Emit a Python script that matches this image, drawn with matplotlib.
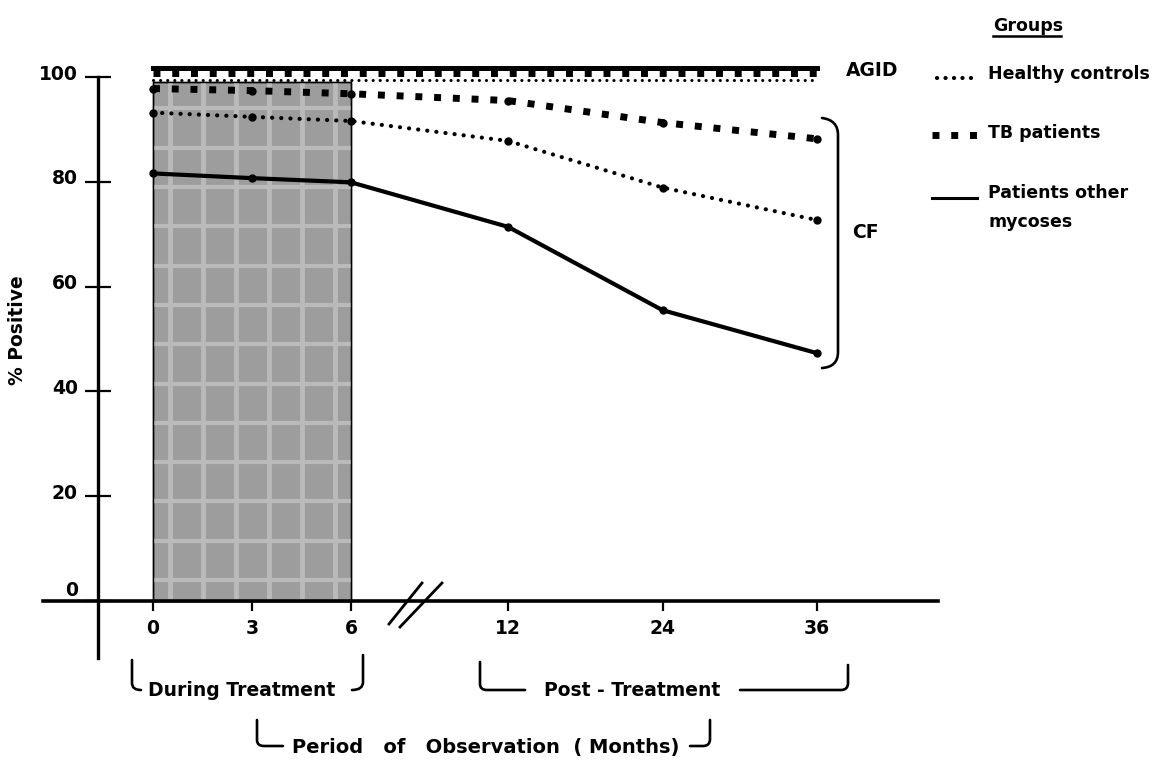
import numpy as np
import matplotlib
matplotlib.use("Agg")
import matplotlib.pyplot as plt
import matplotlib.transforms as mtransforms
from matplotlib.path import Path
from matplotlib.patches import PathPatch, Rectangle
from matplotlib.lines import Line2D

# ---------------- data ----------------
months = [0, 3, 6, 12, 24, 36]
month_labels = ["0", "3", "6", "12", "24", "36"]
y_ticks = [0, 20, 40, 60, 80, 100]

# CF (complement fixation) % positive
cf_healthy = [93.2, 92.4, 91.6, 87.8, 78.9, 72.7]
cf_tb = [97.8, 97.4, 96.8, 95.5, 91.3, 88.2]
cf_other = [81.6, 80.7, 79.9, 71.4, 55.5, 47.3]

# AGID % positive
agid_healthy = [99.5, 99.5, 99.5, 99.5, 99.5, 99.5]
agid_tb = [100.7, 100.7, 100.7, 100.7, 100.7, 100.7]
agid_other = [101.8, 101.8, 101.8, 101.8, 101.8, 101.8]

treatment_start, treatment_end = 0, 6

# ---------------- figure ----------------
W, H = 1155, 764
plt.rcParams['font.family'] = ['DejaVu Sans']
plt.rcParams['font.weight'] = 'bold'
plt.rcParams['lines.scale_dashes'] = False
FS = 13.5

fig = plt.figure(figsize=(W / 100, H / 100), dpi=100)
ax = fig.add_axes([0, 0, 1, 1])
ax.patch.set_alpha(0)

# broken time axis: 0-6 months wide, 12-36 months compressed
P12 = 10.76
S2 = 0.39


def fwd(m):
    m = np.asarray(m, dtype=float)
    return np.where(m <= 6, m,
                    np.where(m <= 12, 6 + (m - 6) * (P12 - 6) / 6,
                             P12 + (m - 12) * S2))


def inv(p):
    p = np.asarray(p, dtype=float)
    return np.where(p <= 6, p,
                    np.where(p <= P12, 6 + (p - 6) * 6 / (P12 - 6),
                             12 + (p - P12) / S2))


ax.set_xscale('function', functions=(fwd, inv))
px_per_unit = 33.0
x0px = 153.0
ax.set_xlim(float(inv(-x0px / px_per_unit)), float(inv((W - x0px) / px_per_unit)))
ypx0, ypx_per = 601.0, 5.24
ax.set_ylim(-(H - ypx0) / ypx_per, ypx0 / ypx_per)

# pixel transform (origin top-left) for annotations
T = mtransforms.Affine2D().scale(1 / W, -1 / H).translate(0, 1) + fig.transFigure


def m_at_px(px):
    return float(inv((px - x0px) / px_per_unit))


# spines
for s in ['top', 'right']:
    ax.spines[s].set_visible(False)
ax.spines['left'].set_position(('data', m_at_px(98)))
ax.spines['left'].set_bounds(-10.8, 100)
ax.spines['left'].set_linewidth(2.4)
ax.spines['bottom'].set_position(('data', 0))
ax.spines['bottom'].set_bounds(m_at_px(43), m_at_px(938))
ax.spines['bottom'].set_linewidth(2.6)

ax.set_yticks(y_ticks)
ax.set_yticklabels([str(v) for v in y_ticks])
ax.tick_params(axis='y', direction='inout', length=19, width=1.6, pad=5,
               labelsize=FS)
ax.set_xticks(months)
ax.set_xticklabels(month_labels)
ax.tick_params(axis='x', direction='out', length=7, width=1.6, pad=6,
               labelsize=FS)
ax.xaxis.set_minor_locator(matplotlib.ticker.NullLocator())
for lab, v in zip(ax.get_yticklabels(), y_ticks):
    dy = 13 if v == 0 else 5
    lab.set_transform(lab.get_transform() +
                      mtransforms.ScaledTranslation(0, dy / 100, fig.dpi_scale_trans))

# shaded treatment period (halftone-like texture)
shade = Rectangle((treatment_start, 0), treatment_end - treatment_start, 99,
                  facecolor='#9d9d9d', edgecolor='black', linewidth=1.0, zorder=1)
ax.add_patch(shade)
# light mottled grid of the halftone screen (decorative texture)
tex_x = np.arange(0.5, 6.0, 1.0)
tex_y = np.arange(4, 99, 7.5)
vl = ax.vlines(tex_x, 0, 99, colors='#bababa', linewidth=3.5, zorder=1.1)
hl = ax.hlines(tex_y, 0, 6, colors='#bababa', linewidth=3.0, zorder=1.1)
vl.set_clip_path(shade)
hl.set_clip_path(shade)
ax.add_patch(Rectangle((treatment_start, 0), treatment_end - treatment_start, 99,
                       facecolor='none', edgecolor='black', linewidth=1.0, zorder=1.2))

# styles
dot_kw = dict(color='black', linewidth=3.0, linestyle=(0, (0.1, 6.5)),
              dash_capstyle='round')
sq_kw = dict(color='black', linewidth=5.0, linestyle=(0, (5, 8.5)),
             dash_capstyle='butt')
solid_kw = dict(color='black', linewidth=3.0, solid_capstyle='round')

# CF lines
ax.plot(months, cf_healthy, marker='o', markersize=5, **dot_kw, zorder=3)
ax.plot(months, cf_tb, marker='o', markersize=5, **sq_kw, zorder=3)
ax.plot(months, cf_other, marker='o', markersize=5, **solid_kw, zorder=3)

# AGID lines
ax.plot(months, agid_other, color='black', linewidth=3.6, zorder=3)
ax.plot(months, agid_tb, color='black', linewidth=5.0, linestyle=(0, (5, 8.5)),
        dash_capstyle='butt', zorder=3)
ax.plot(months, agid_healthy, color='black', linewidth=2.2,
        linestyle=(0, (0.1, 5.0)), dash_capstyle='round', zorder=3)


# ---------------- annotations (pixel coordinates) ----------------
def draw_path(verts, codes, lw=1.9):
    fig.add_artist(PathPatch(Path(verts, codes), transform=T, facecolor='none',
                             edgecolor='black', linewidth=lw, capstyle='round'))


M, L, Q = Path.MOVETO, Path.LINETO, Path.CURVE3

# axis break marks
for (xa, ya, xb, yb) in [(389, 624, 422, 583), (400, 627, 442, 583)]:
    fig.add_artist(Line2D([xa, xb], [ya, yb], transform=T, color='black', linewidth=2.0))

# CF bracket
draw_path([(822, 118), (838, 120), (838, 135), (838, 352), (838, 367), (822, 368)],
          [M, Q, Q, L, Q, Q])

# bottom brackets
draw_path([(132, 660), (132, 683), (132, 690), (141, 690)], [M, L, Q, Q])
draw_path([(363, 655), (363, 682), (363, 690), (352, 690)], [M, L, Q, Q])
draw_path([(480, 662), (480, 684), (480, 690), (487, 690), (525, 690)], [M, L, Q, Q, L])
draw_path([(740, 690), (841, 690), (848, 690), (848, 683), (848, 665)], [M, L, Q, Q, L])
draw_path([(257, 720), (257, 740), (257, 746), (264, 746), (283, 746)], [M, L, Q, Q, L])
draw_path([(690, 746), (703, 746), (710, 746), (710, 739), (710, 720)], [M, L, Q, Q, L])

tkw = dict(transform=T, fontsize=FS, fontweight='bold', color='black')
fig.text(148, 690, "During Treatment", ha='left', va='center', **tkw)
fig.text(632, 690, "Post - Treatment", ha='center', va='center', **tkw)
fig.text(292, 748, "Period   of   Observation  ( Months)", ha='left', va='center',
         transform=T, fontsize=14, fontweight='bold')
fig.text(18, 330, "% Positive", ha='center', va='center', rotation=90, **tkw)
fig.text(846, 70, "AGID", ha='left', va='center', **tkw)
fig.text(852, 233, "CF", ha='left', va='center', **tkw)

# legend
LFS = 12.5
lkw = dict(transform=T, fontsize=LFS, fontweight='bold', color='black',
           ha='left', va='center')
fig.text(993, 26, "Groups", **lkw)
fig.add_artist(Line2D([993, 1061], [36, 36], transform=T, color='black', linewidth=1.8))
fig.text(988, 74, "Healthy controls", **lkw)
fig.text(988, 133, "TB patients", **lkw)
fig.text(988, 193, "Patients other", **lkw)
fig.text(988, 222, "mycoses", **lkw)
fig.add_artist(Line2D([937, 975], [78, 78], transform=T, color='black', linewidth=3.0,
                      linestyle=(0, (0.1, 6.0)), dash_capstyle='round'))
fig.add_artist(Line2D([932, 980], [135, 135], transform=T, **sq_kw))
fig.add_artist(Line2D([932, 977], [198, 198], transform=T, color='black', linewidth=2.2))

fig.savefig("out.png", dpi=100, facecolor='white')
